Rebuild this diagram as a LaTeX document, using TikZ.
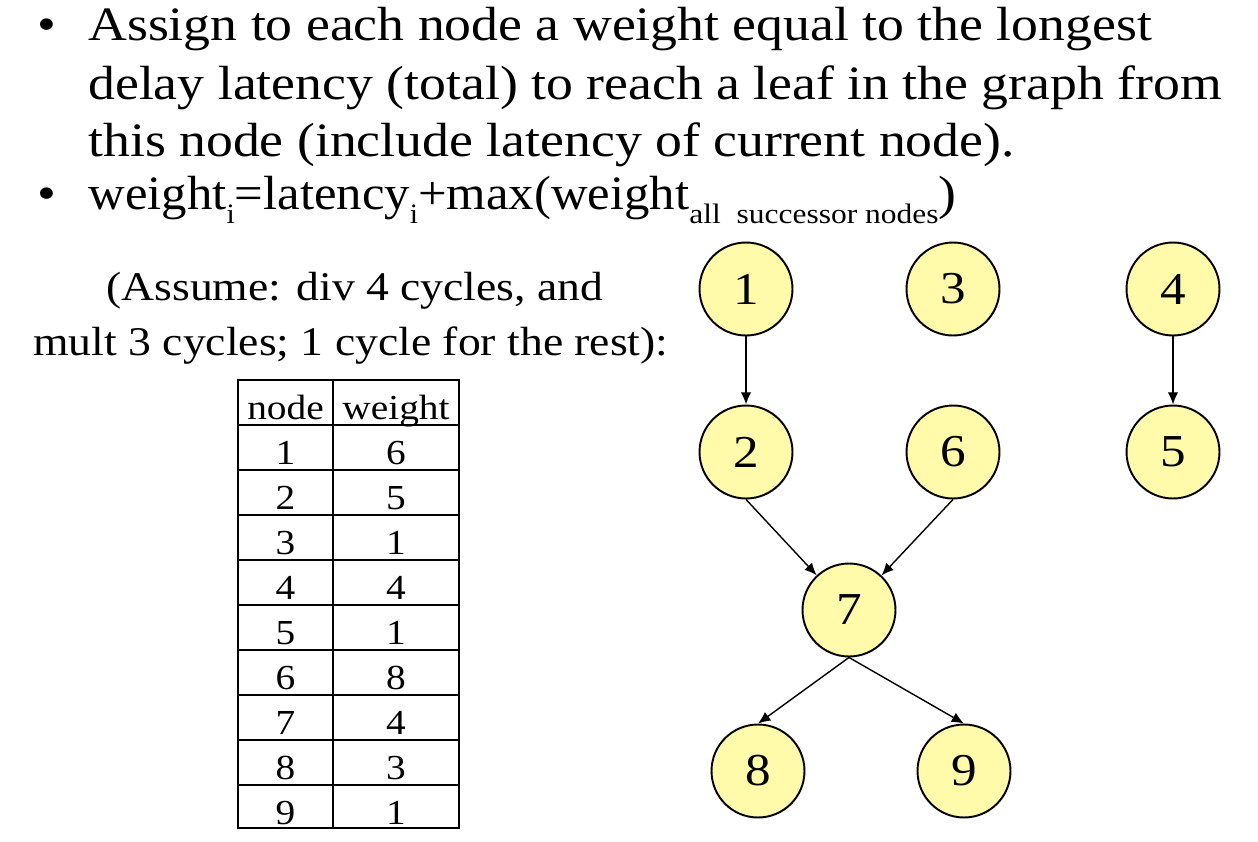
\documentclass[tikz,border=0pt]{standalone}
\usepackage{graphicx}
\usepackage{fontspec}
\setmainfont[FakeStretch=1.12]{Liberation Serif}
\usetikzlibrary{arrows.meta}

\definecolor{nodefill}{RGB}{255,251,170}
\newcommand{\lowsub}[1]{\raisebox{-8pt}{\fontsize{16}{16}\selectfont #1}}
\tikzset{
  opnode/.style={circle,draw,line width=1.1pt,fill=nodefill,minimum size=1.86cm,
    inner sep=0pt,font=\fontsize{26}{26}\selectfont},
  dep/.style={-{Latex[length=7pt,width=6pt]},line width=0.8pt},
  slide/.style={anchor=base west,inner sep=0pt,font=\fontsize{27.3}{32}\selectfont},
  note/.style={anchor=base west,inner sep=0pt,font=\fontsize{23.2}{28}\selectfont},
  cell/.style={anchor=base,inner sep=0pt,font=\fontsize{20}{20}\selectfont}
}

\begin{document}
\begin{tikzpicture}[x=0.02cm,y=0.02cm]
        \useasboundingbox (0,0) rectangle (1258,-842);
        % Text de la diapositiva
        \node[slide] (b1) at (37,-40) {\textbullet};
        \node[slide] (l1) at (88,-40) {Assign to each node a weight equal to the longest};
        \node[slide] (l2) at (88,-99) {delay latency (total) to reach a leaf in the graph from};
        \node[slide] (l3) at (88,-156) {this node (include latency of current node).};
        \node[slide] (b2) at (37,-209) {\textbullet};
        \node[slide] (l4) at (88,-209) {\scalebox{0.945}[1]{weight\lowsub{i}=latency\lowsub{i}+max(weight}\lowsub{all\ \ successor nodes})};
        \node[note] (a1) at (106,-300) {(Assume: div 4 cycles, and};
        \node[note] (a2) at (33,-355) {mult 3 cycles; 1 cycle for the rest):};
        % Taula de pesos
        \draw[line width=0.6pt] (238,-380) rectangle (459,-828);
        \draw[line width=0.6pt] (333,-380) -- (333,-828);
        \foreach \y in {425,470,...,785}
          \draw[line width=0.6pt] (238,-\y) -- (459,-\y);
        \node[cell] (hn) at (285.5,-419) {node};
        \node[cell] (hw) at (396,-419) {weight};
        \foreach \n/\w [count=\r] in {1/6,2/5,3/1,4/4,5/1,6/8,7/4,8/3,9/1}{
          \node[cell] (n\r) at (285.5,-419-45*\r) {\n};
          \node[cell] (w\r) at (396,-419-45*\r) {\w};
        }
        % Graf de dependencies
        \node[opnode] (v1) at (746,-289) {1};
        \node[opnode] (v3) at (953,-289) {3};
        \node[opnode] (v4) at (1173,-289) {4};
        \node[opnode] (v2) at (746,-452) {2};
        \node[opnode] (v6) at (953,-452) {6};
        \node[opnode] (v5) at (1173,-452) {5};
        \node[opnode] (v7) at (849,-610) {7};
        \node[opnode] (v8) at (758,-771) {8};
        \node[opnode] (v9) at (964,-771) {9};
        \draw[dep] (v1) -- (v2);
        \draw[dep] (v4) -- (v5);
        \draw[dep] (v2.south) -- (v7);
        \draw[dep] (v6.south) -- (v7);
        \draw[dep] (v7.south) -- (v8.north);
        \draw[dep] (v7.south) -- (v9.north);
\end{tikzpicture}
\end{document}
